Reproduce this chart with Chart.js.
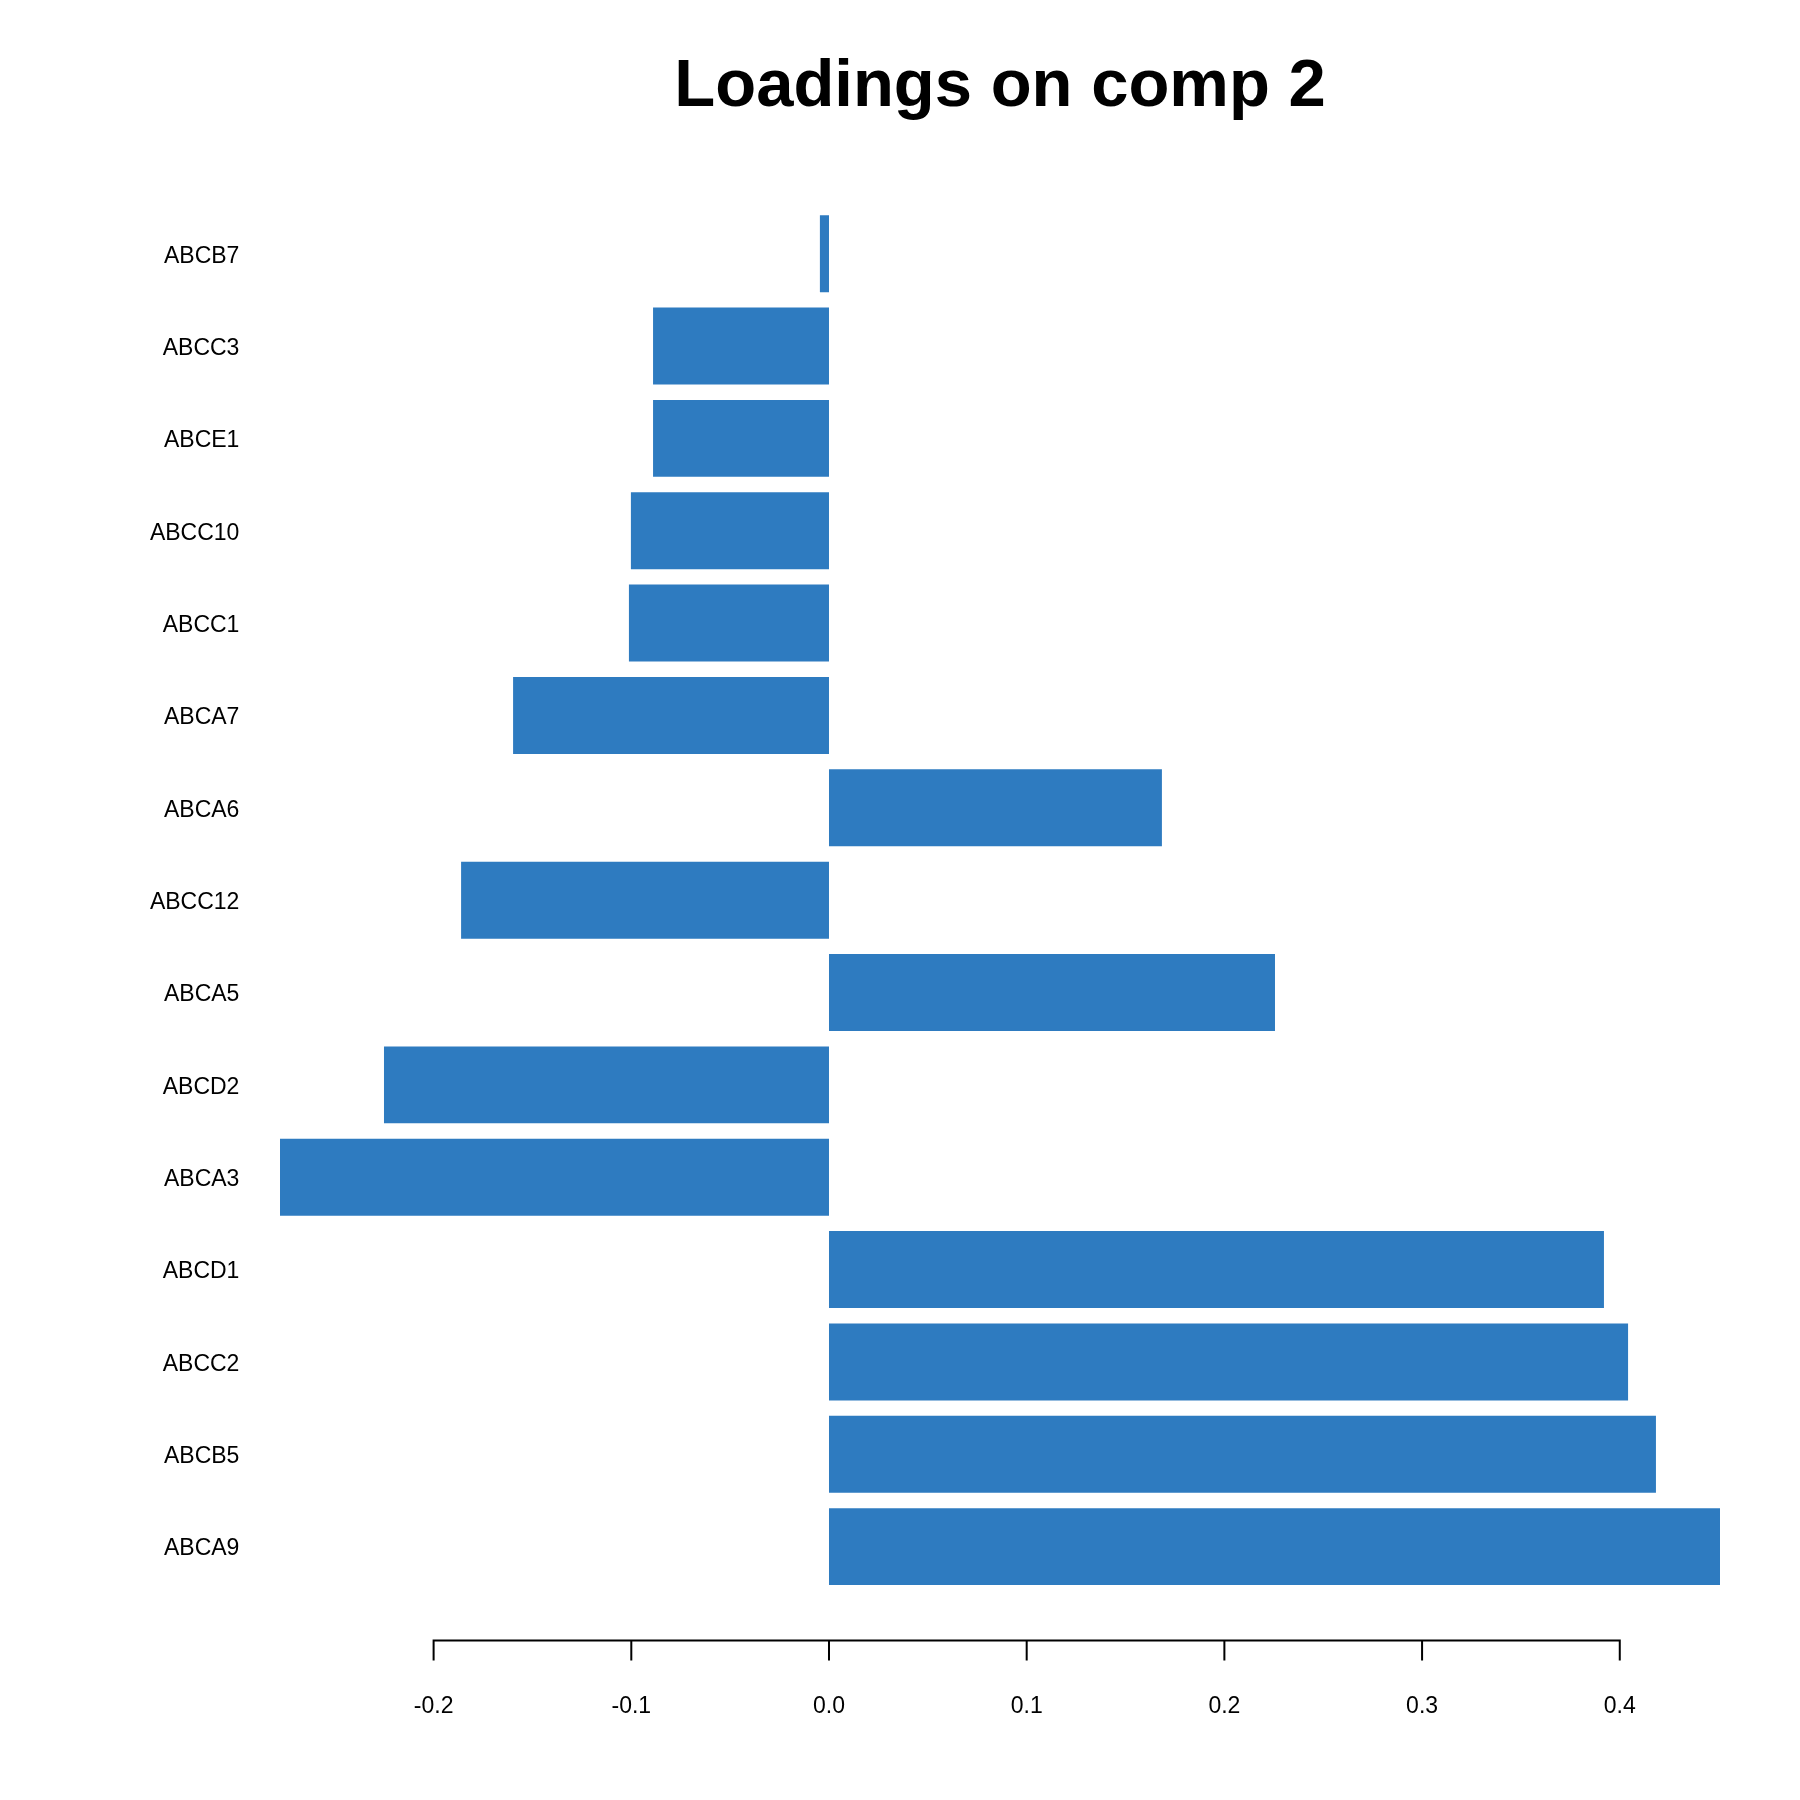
<!DOCTYPE html>
<html>
<head>
<meta charset="utf-8">
<script src="https://cdn.jsdelivr.net/npm/chart.js@4.4.1/dist/chart.umd.min.js"></script>
<style>
  html, body { margin: 0; padding: 0; background: #ffffff; }
  #wrap { width: 1800px; height: 1800px; }
  canvas { display: block; }
</style>
</head>
<body>
<div id="wrap"><canvas id="c" width="1800" height="1800"></canvas></div>
<script>
// ---- data ----
const chartTitle = 'Loadings on comp 2';
const genes = ['ABCB7', 'ABCC3', 'ABCE1', 'ABCC10', 'ABCC1', 'ABCA7', 'ABCA6', 'ABCC12',
               'ABCA5', 'ABCD2', 'ABCA3', 'ABCD1', 'ABCC2', 'ABCB5', 'ABCA9'];
const loadings = [-0.0046, -0.0890, -0.0890, -0.1002, -0.1012, -0.1598, 0.1684, -0.1861,
                  0.2256, -0.2251, -0.2777, 0.3920, 0.4042, 0.4183, 0.4507];
const xTickValues = [-0.2, -0.1, 0.0, 0.1, 0.2, 0.3, 0.4];

// ---- R-like axis range (data range extended by 4%) ----
const lo = Math.min(0, ...loadings);
const hi = Math.max(0, ...loadings);
const ext = (hi - lo) * 0.04;

const FONT = "'Liberation Sans', Arial, Helvetica, sans-serif";
const BAR = '#2E7BC0';

// R-style bottom axis: line spans first to last tick, ticks point down
const rAxis = {
  id: 'rAxis',
  afterDraw(chart) {
    const xs = chart.scales.x;
    const ctx = chart.ctx;
    const y0 = chart.chartArea.bottom + 47.6;
    const tick = 20;
    ctx.save();
    ctx.strokeStyle = '#000000';
    ctx.lineWidth = 2;
    ctx.lineCap = 'butt';
    ctx.beginPath();
    const xa = xs.getPixelForValue(xTickValues[0]);
    const xb = xs.getPixelForValue(xTickValues[xTickValues.length - 1]);
    ctx.moveTo(xa - 1, y0);
    ctx.lineTo(xb + 1, y0);
    xTickValues.forEach(v => {
      const px = xs.getPixelForValue(v);
      ctx.moveTo(px, y0);
      ctx.lineTo(px, y0 + tick);
    });
    ctx.stroke();
    ctx.restore();
  }
};

new Chart(document.getElementById('c'), {
  type: 'bar',
  data: {
    labels: genes,
    datasets: [{
      data: loadings,
      backgroundColor: BAR,
      borderWidth: 0,
      barPercentage: 0.8333,
      categoryPercentage: 1.0
    }]
  },
  options: {
    indexAxis: 'y',
    responsive: false,
    devicePixelRatio: 1,
    animation: false,
    layout: { padding: { left: 0, right: 22.4, top: 0, bottom: 0 } },
    plugins: {
      legend: { display: false },
      tooltip: { enabled: false },
      title: {
        display: true,
        text: chartTitle,
        fullSize: false,
        color: '#000000',
        font: { family: FONT, size: 67, weight: 'bold', lineHeight: 1.2 },
        padding: { top: 47.1, bottom: 80.0 }
      }
    },
    scales: {
      x: {
        type: 'linear',
        position: 'bottom',
        min: lo - ext,
        max: hi + ext,
        grid: { display: false, drawTicks: false },
        border: { display: false },
        afterBuildTicks: s => { s.ticks = xTickValues.map(v => ({ value: v })); },
        afterFit: s => { s.height = 207.2; },
        ticks: {
          autoSkip: false,
          maxRotation: 0,
          padding: 100.5,
          color: '#000000',
          font: { family: FONT, size: 23, lineHeight: 1.2 },
          callback: v => Number(v).toFixed(1)
        }
      },
      y: {
        type: 'category',
        position: 'left',
        offset: true,
        grid: { display: false, drawTicks: false },
        border: { display: false },
        afterFit: s => {
          s.width = 222.4;
          // R draws the names partly over the plot margin: do not clip them to the axis box
          s._computeLabelArea = () => undefined;
        },
        ticks: {
          autoSkip: false,
          padding: -17,
          labelOffset: 2.5,
          color: '#000000',
          font: { family: FONT, size: 23, lineHeight: 1.2 }
        }
      }
    }
  },
  plugins: [rAxis]
});
</script>
</body>
</html>
